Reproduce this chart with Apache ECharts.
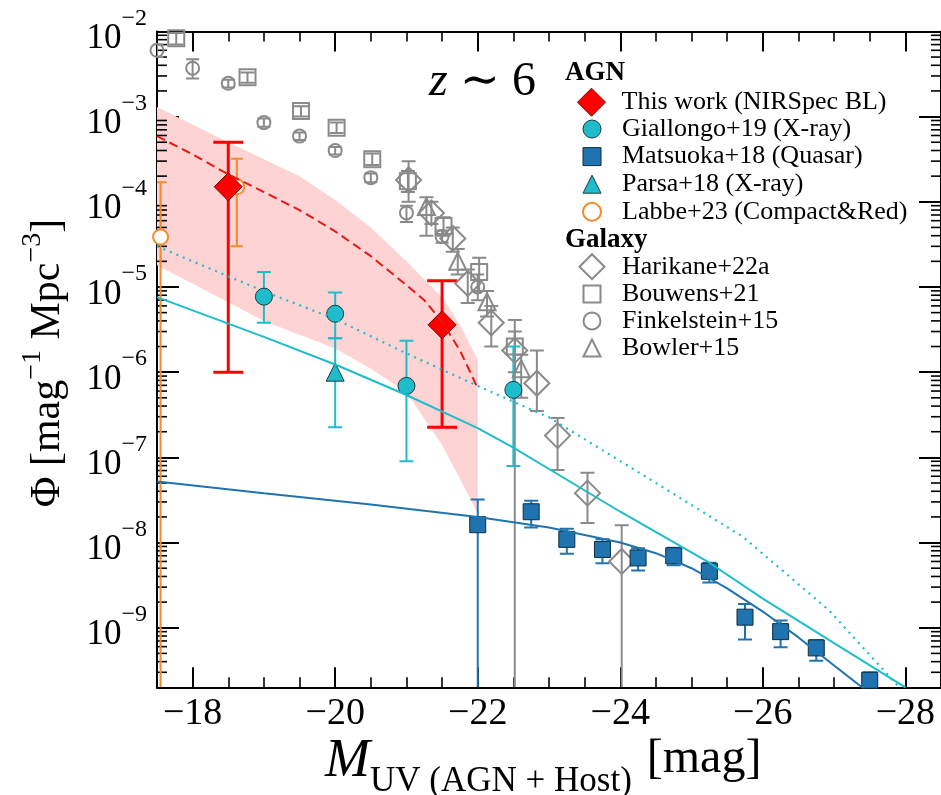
<!DOCTYPE html>
<html>
<head>
<meta charset="utf-8">
<script src="https://cdn.jsdelivr.net/npm/echarts@6.0.0/dist/echarts.min.js"></script>
<style>html,body{margin:0;padding:0;background:#fff}#c{width:941px;height:795px}</style>
</head>
<body>
<div id="c"></div>
<script>
// ---------------- axis ranges & ticks ----------------
const X_MIN = -28.5, X_MAX = -17.5;
const Y_MIN = 2e-10, Y_MAX = 1e-2;
const xTickLabels = [-18, -20, -22, -24, -26, -28];
const yTickExponents = [-9, -8, -7, -6, -5, -4, -3, -2];

// ---------------- AGN data: [M, phi, low, high] ----------------
const thisWorkM   = [-18.5, -21.5];
const thisWorkPhi = [1.5e-4, 3.6e-6];
const thisWorkLo  = [1.0e-6, 2.25e-7];
const thisWorkHi  = [5.0e-4, 1.18e-5];

const giallongoM   = [-19, -20, -21, -22.5];
const giallongoPhi = [7.7e-6, 4.85e-6, 6.9e-7, 6.2e-7];
const giallongoLo  = [3.8e-6, 2.5e-6, 9.0e-8, 7.9e-8];
const giallongoHi  = [1.5e-5, 8.6e-6, 2.34e-6, 2.0e-6];

const matsuokaM   = [-22, -22.75, -23.25, -23.75, -24.25, -24.75, -25.25, -25.75, -26.25, -26.75, -27.5];
const matsuokaPhi = [1.62e-8, 2.3e-8, 1.09e-8, 8.3e-9, 6.6e-9, 7.0e-9, 4.6e-9, 1.33e-9, 9.0e-10, 5.8e-10, 2.42e-10];
const matsuokaLo  = [0, 1.5e-8, 7.4e-9, 5.7e-9, 4.7e-9, 5.4e-9, 3.4e-9, 7.3e-10, 5.9e-10, 4.1e-10, 1.8e-10];
const matsuokaHi  = [3.2e-8, 3.1e-8, 1.45e-8, 1.09e-8, 8.6e-9, 8.7e-9, 5.8e-9, 1.9e-9, 1.22e-9, 7.2e-10, 3.0e-10];

const parsaM   = [-20];
const parsaPhi = [1.0e-6];
const parsaLo  = [2.25e-7];
const parsaHi  = [2.5e-6];

const labbeM   = [-17.55, -18.62];
const labbePhi = [3.85e-5, 1.5e-4];
const labbeLo  = [0, 3.0e-5];
const labbeHi  = [1.7e-4, 3.2e-4];

// ---------------- Galaxy data ----------------
const harikaneM   = [-21.03, -21.35, -21.65, -21.86, -22.19, -22.52, -22.83, -23.12, -23.54, -24.02];
const harikanePhi = [1.8e-4, 7.4e-5, 3.7e-5, 1.1e-5, 3.8e-6, 1.8e-6, 7.4e-7, 1.8e-7, 3.8e-8, 6.0e-9];
const harikaneLo  = [1.0e-4, 5.5e-5, 2.6e-5, 6.5e-6, 2.0e-6, 1.0e-6, 3.5e-7, 7.1e-8, 1.7e-8, 0];
const harikaneHi  = [3.0e-4, 1.0e-4, 5.0e-5, 1.6e-5, 6.0e-6, 3.0e-6, 1.8e-6, 2.9e-7, 6.6e-8, 1.6e-8];

const bouwensM   = [-17.77, -18.77, -19.52, -20.02, -20.52, -21.02, -21.52, -22.02, -22.52];
const bouwensPhi = [8.3e-3, 2.9e-3, 1.16e-3, 7.4e-4, 3.16e-4, 1.74e-4, 5.2e-5, 1.5e-5, 2.0e-6];
const bouwensLo  = [7.0e-3, 2.5e-3, 1.0e-3, 6.4e-4, 2.7e-4, 1.3e-4, 4.0e-5, 9.0e-6, 0];
const bouwensHi  = [9.6e-3, 3.3e-3, 1.32e-3, 8.5e-4, 3.7e-4, 2.3e-4, 6.6e-5, 2.2e-5, 4.1e-6];

const finkelsteinM   = [-17.5, -18.0, -18.5, -19.0, -19.5, -20.0, -20.5, -21.0, -21.5, -22.0];
const finkelsteinPhi = [6.0e-3, 3.7e-3, 2.46e-3, 8.5e-4, 5.9e-4, 4.0e-4, 1.92e-4, 7.4e-5, 3.9e-5, 1.0e-5];
const finkelsteinLo  = [5.0e-3, 2.8e-3, 2.2e-3, 7.6e-4, 5.3e-4, 3.6e-4, 1.7e-4, 5.8e-5, 3.3e-5, 7.0e-6];
const finkelsteinHi  = [7.0e-3, 4.7e-3, 2.7e-3, 9.5e-4, 6.5e-4, 4.4e-4, 2.15e-4, 9.0e-5, 4.6e-5, 1.4e-5];

const bowlerM   = [-21.28, -21.72, -22.13, -22.61];
const bowlerPhi = [8.8e-5, 2.0e-5, 6.7e-6, 1.1e-6];
const bowlerLo  = [4.0e-5, 1.4e-5, 4.5e-6, 5.0e-7];
const bowlerHi  = [1.13e-4, 2.8e-5, 9.0e-6, 1.6e-6];

// ---------------- model curves ----------------
const dplRedM   = [-17.5, -18, -18.5, -19, -19.5, -20, -20.5, -21, -21.25, -21.5, -21.75, -22];
const dplRedPhi = [5.9e-4, 3.6e-4, 2.1e-4, 1.3e-4, 8.0e-5, 4.5e-5, 2.3e-5, 1.05e-5, 7.0e-6, 3.9e-6, 1.8e-6, 6.5e-7];

const bandUpperM   = [-17.5, -18.5, -19.5, -20.0, -20.5, -21.0, -21.5, -21.75, -22.0];
const bandUpperPhi = [1.3e-3, 5.0e-4, 2.0e-4, 1.05e-4, 5.0e-5, 2.0e-5, 7.6e-6, 3.6e-6, 1.4e-6];
const bandLowerM   = [-17.5, -18.25, -19.0, -20.0, -20.5, -21.0, -21.5, -21.75, -22.0];
const bandLowerPhi = [1.8e-5, 8.5e-6, 4.0e-6, 1.9e-6, 1.1e-6, 5.8e-7, 1.4e-7, 5.6e-8, 2.2e-8];

const cyanSolidM   = [-17.5, -19, -20, -21, -22, -22.5, -23, -24, -25.25, -26, -27, -28];
const cyanSolidPhi = [7.6e-6, 2.6e-6, 1.23e-6, 5.4e-7, 2.2e-7, 1.3e-7, 7.3e-8, 2.3e-8, 5.8e-9, 2.2e-9, 6.6e-10, 2.0e-10];

const cyanDotM   = [-17.5, -19, -20, -21, -22, -23, -24.28, -25.72, -26.93, -27.89];
const cyanDotPhi = [3.0e-5, 8.9e-6, 4.2e-6, 1.66e-6, 6.9e-7, 2.95e-7, 6.5e-8, 1.17e-8, 1.6e-9, 2.1e-10];

const matsuokaFitM   = [-17.5, -19, -20.5, -22, -23, -24, -24.5, -25, -25.5, -26, -26.5, -27, -27.5];
const matsuokaFitPhi = [5.2e-8, 3.8e-8, 2.8e-8, 2.0e-8, 1.5e-8, 1.0e-8, 7.5e-9, 5.0e-9, 2.9e-9, 1.55e-9, 7.7e-10, 3.6e-10, 1.7e-10];

// minor log tick positions (2..9 x 10^n)
const yMinorTicks = [];
for (let e = -10; e < -2; e++) for (let k = 2; k <= 9; k++) {
  const v = k * Math.pow(10, e);
  if (v > Y_MIN * 1.001 && v < Y_MAX) yMinorTicks.push(v);
}

// ---------------- styles ----------------
const FONT = "'Liberation Serif', 'Times New Roman', 'DejaVu Serif', serif";
const RED = '#ff0000', CYAN = '#1fbccc', BLUE = '#1f74b0', ORANGE = '#f58a2a', GRAY = '#8a8a8a';

function pairs(M, P) { return M.map((m, i) => [m, P[i]]); }

function errBars(name, M, lo, hi, color, lw, cap) {
  return {
    type: 'custom', name: name, silent: true, clip: true,
    data: M.map((m, i) => [m, lo[i], hi[i]]),
    encode: { x: 0, y: 2 },
    renderItem: function (params, api) {
      const x = api.value(0), l = api.value(1), h = api.value(2);
      const top = api.coord([x, h]);
      const hasLow = l > 0;
      const bot = api.coord([x, hasLow ? l : Y_MIN]);
      const st = { stroke: color, lineWidth: lw };
      const ch = [
        { type: 'line', shape: { x1: top[0], y1: top[1], x2: bot[0], y2: bot[1] }, style: st },
        { type: 'line', shape: { x1: top[0] - cap / 2, y1: top[1], x2: top[0] + cap / 2, y2: top[1] }, style: st }
      ];
      if (hasLow) ch.push({ type: 'line', shape: { x1: bot[0] - cap / 2, y1: bot[1], x2: bot[0] + cap / 2, y2: bot[1] }, style: st });
      return { type: 'group', children: ch };
    }
  };
}

function fitLine(name, M, P, color, type, width) {
  return {
    type: 'line', name: name, data: pairs(M, P), showSymbol: false, symbol: 'none',
    silent: true, clip: true, lineStyle: { color: color, width: width, type: type }
  };
}

function scatter(name, M, P, symbol, size, fill, border, bw) {
  return {
    type: 'scatter', name: name, data: pairs(M, P), symbol: symbol, symbolSize: size,
    clip: true, silent: true,
    itemStyle: { color: fill, borderColor: border, borderWidth: bw, opacity: 1 }
  };
}

const bandSeries = {
  type: 'custom', name: 'band', silent: true, clip: true,
  data: [[bandUpperM[0], bandUpperPhi[0]]],
  encode: { x: 0, y: 1 },
  renderItem: function (params, api) {
    const pts = [];
    for (let i = 0; i < bandUpperM.length; i++) pts.push(api.coord([bandUpperM[i], bandUpperPhi[i]]));
    for (let i = bandLowerM.length - 1; i >= 0; i--) pts.push(api.coord([bandLowerM[i], bandLowerPhi[i]]));
    return { type: 'polygon', shape: { points: pts }, style: { fill: '#fdd3d3' } };
  }
};

const minorTickSeries = {
  type: 'custom', name: 'minorTicks', silent: true, clip: false,
  data: yMinorTicks.map(v => [X_MAX, v]),
  encode: { x: 0, y: 1 },
  renderItem: function (params, api) {
    const v = api.value(1);
    const L = api.coord([X_MAX, v]);
    const R = api.coord([X_MIN, v]);
    const st = { stroke: '#000', lineWidth: 1.6 };
    return { type: 'group', children: [
      { type: 'line', shape: { x1: L[0], y1: L[1], x2: L[0] + 10, y2: L[1] }, style: st },
      { type: 'line', shape: { x1: R[0], y1: R[1], x2: R[0] - 10, y2: R[1] }, style: st }
    ] };
  }
};

function fmtX(v) {
  const r = Math.round(v);
  if (Math.abs(v - r) > 1e-6 || xTickLabels.indexOf(r) < 0) return '';
  return '\u2212' + Math.abs(r);
}
function fmtY(v) {
  const lg = Math.log10(v);
  const e = Math.round(lg);
  if (Math.abs(lg - e) > 1e-6 || yTickExponents.indexOf(e) < 0) return '';
  return '{b|10}{s|\u2212' + Math.abs(e) + '}';
}

const xBase = {
  type: 'value', min: X_MIN, max: X_MAX, inverse: true, minInterval: 2, maxInterval: 2,
  splitLine: { show: false },
  axisLine: { show: true, onZero: false, lineStyle: { color: '#000', width: 2 } },
  axisTick: { show: true, inside: true, length: 20, lineStyle: { color: '#000', width: 2 } },
  minorTick: { show: true, splitNumber: 4, length: 10, lineStyle: { color: '#000', width: 1.6 } }
};
const yBase = {
  type: 'log', logBase: 10, min: Y_MIN, max: Y_MAX,
  splitLine: { show: false },
  axisLine: { show: true, onZero: false, lineStyle: { color: '#000', width: 2 } },
  axisTick: { show: true, inside: true, length: 22, lineStyle: { color: '#000', width: 2 } }
};

// legend: icon centred at x=591, text starting at x=621
function legendBox(top, iconSize, lineH, items) {
  return {
    show: true, orient: 'vertical', left: 591 - iconSize / 2, top: top, padding: 0, itemGap: 0,
    itemWidth: iconSize, itemHeight: iconSize, selectedMode: false,
    textStyle: { fontFamily: FONT, fontSize: 26, color: '#000', lineHeight: lineH,
      padding: [0, 0, 0, 25 - iconSize / 2] },
    data: items
  };
}

const option = {
  animation: false,
  backgroundColor: '#fff',
  grid: { left: 157, top: 31.4, width: 785.8, height: 655.9, containLabel: false },
  xAxis: [
    Object.assign({}, xBase, { position: 'bottom',
      axisLabel: { show: true, formatter: fmtX, margin: 8, fontFamily: FONT, fontSize: 38, color: '#000',
        showMinLabel: false, showMaxLabel: false } }),
    Object.assign({}, xBase, { position: 'top', axisLabel: { show: false } })
  ],
  yAxis: [
    Object.assign({}, yBase, { position: 'left',
      axisLabel: { show: true, formatter: fmtY, margin: 10,
        rich: {
          b: { fontFamily: FONT, fontSize: 35, color: '#000', lineHeight: 50, verticalAlign: 'bottom' },
          s: { fontFamily: FONT, fontSize: 24, color: '#000', lineHeight: 22, verticalAlign: 'top' }
        } } }),
    Object.assign({}, yBase, { position: 'right', axisLabel: { show: false } })
  ],
  legend: [
    legendBox(87.7, 28, 28, [
      { name: 'This work (NIRSpec BL)', icon: 'diamond', itemStyle: { color: RED, borderColor: '#7a0000', borderWidth: 1 } }
    ]),
    legendBox(115.2, 18, 27.6, [
      { name: 'Giallongo+19 (X-ray)', icon: 'circle', itemStyle: { color: CYAN, borderColor: '#1d3a40', borderWidth: 1 } },
      { name: 'Matsuoka+18 (Quasar)', icon: 'rect', itemStyle: { color: BLUE, borderColor: '#102a40', borderWidth: 1 } },
      { name: 'Parsa+18 (X-ray)', icon: 'triangle', itemStyle: { color: CYAN, borderColor: '#1d3a40', borderWidth: 1 } },
      { name: 'Labbe+23 (Compact&Red)', icon: 'circle', itemStyle: { color: '#fff', borderColor: ORANGE, borderWidth: 2 } }
    ]),
    legendBox(253.1, 25, 27.2, [
      { name: 'Harikane+22a', icon: 'diamond', itemStyle: { color: '#fff', borderColor: GRAY, borderWidth: 2 } }
    ]),
    legendBox(280.5, 17, 27, [
      { name: 'Bouwens+21', icon: 'rect', itemStyle: { color: '#fff', borderColor: GRAY, borderWidth: 2 } },
      { name: 'Finkelstein+15', icon: 'circle', itemStyle: { color: '#fff', borderColor: GRAY, borderWidth: 2 } },
      { name: 'Bowler+15', icon: 'triangle', itemStyle: { color: '#fff', borderColor: GRAY, borderWidth: 2 } }
    ])
  ],
  graphic: [
    { type: 'text', x: 429, y: 82, style: { text: '{i|z}{n| \u223C 6}', align: 'left', verticalAlign: 'middle',
      rich: { i: { fontFamily: FONT, fontStyle: 'italic', fontSize: 48, fill: '#000' },
              n: { fontFamily: FONT, fontSize: 48, fill: '#000' } } } },
    { type: 'text', x: 565, y: 73, style: { text: 'AGN', fontFamily: FONT, fontWeight: 'bold', fontSize: 27, fill: '#000', align: 'left', verticalAlign: 'middle' } },
    { type: 'text', x: 565, y: 240, style: { text: 'Galaxy', fontFamily: FONT, fontWeight: 'bold', fontSize: 27, fill: '#000', align: 'left', verticalAlign: 'middle' } },
    { type: 'text', x: 44, y: 363, rotation: Math.PI / 2,
      style: { text: '{n|\u03A6 [mag}{s|\u22121}{n| Mpc}{s|\u22123}{n|]}', align: 'center', verticalAlign: 'middle',
        rich: { n: { fontFamily: FONT, fontSize: 42, fill: '#000', lineHeight: 50, verticalAlign: 'bottom' },
                s: { fontFamily: FONT, fontSize: 28, fill: '#000', lineHeight: 26, verticalAlign: 'top' } } } },
    { type: 'text', x: 325, y: 767,
      style: { text: '{m|M}{u|UV (AGN + Host)}{g|  }{n|[mag]}', align: 'left', verticalAlign: 'middle',
        rich: { m: { fontFamily: FONT, fontStyle: 'italic', fontSize: 54, fill: '#000', lineHeight: 60, verticalAlign: 'top' },
                u: { fontFamily: FONT, fontSize: 35, fill: '#000', lineHeight: 34, verticalAlign: 'bottom' },
                g: { fontFamily: FONT, fontSize: 30, fill: '#000', lineHeight: 34, verticalAlign: 'bottom' },
                n: { fontFamily: FONT, fontSize: 48, fill: '#000', lineHeight: 64, verticalAlign: 'top' } } } }
  ],
  series: [
    bandSeries,
    minorTickSeries,
    fitLine('Matsuoka fit', matsuokaFitM, matsuokaFitPhi, BLUE, 'solid', 2),
    fitLine('Giallongo fit', cyanSolidM, cyanSolidPhi, CYAN, 'solid', 2),
    fitLine('Giallongo fit dotted', cyanDotM, cyanDotPhi, CYAN, [2, 5], 2.2),
    fitLine('This work fit', dplRedM, dplRedPhi, '#e81818', [9, 5], 2),

    errBars('Finkelstein err', finkelsteinM, finkelsteinLo, finkelsteinHi, GRAY, 2, 13),
    scatter('Finkelstein+15', finkelsteinM, finkelsteinPhi, 'circle', 13, 'rgba(255,255,255,0)', GRAY, 2),
    errBars('Bouwens err', bouwensM, bouwensLo, bouwensHi, GRAY, 2, 14),
    scatter('Bouwens+21', bouwensM, bouwensPhi, 'rect', 16, 'rgba(255,255,255,0)', GRAY, 2),
    errBars('Bowler err', bowlerM, bowlerLo, bowlerHi, GRAY, 2, 14),
    scatter('Bowler+15', bowlerM, bowlerPhi, 'triangle', 17, 'rgba(255,255,255,0)', GRAY, 2),
    errBars('Harikane err', harikaneM, harikaneLo, harikaneHi, GRAY, 2, 14),
    scatter('Harikane+22a', harikaneM, harikanePhi, 'diamond', 25, 'rgba(255,255,255,0)', GRAY, 2),

    errBars('Labbe err', labbeM, labbeLo, labbeHi, ORANGE, 2, 12),
    scatter('Labbe+23 (Compact&Red)', labbeM, labbePhi, 'circle', 15, '#fff', ORANGE, 2),
    errBars('Matsuoka err', matsuokaM, matsuokaLo, matsuokaHi, BLUE, 2, 14),
    scatter('Matsuoka+18 (Quasar)', matsuokaM, matsuokaPhi, 'rect', 16, BLUE, '#102a40', 1),
    errBars('Parsa err', parsaM, parsaLo, parsaHi, CYAN, 2, 14),
    scatter('Parsa+18 (X-ray)', parsaM, parsaPhi, 'triangle', 18, CYAN, '#1d3a40', 1),
    errBars('Giallongo err', giallongoM, giallongoLo, giallongoHi, CYAN, 2, 14),
    scatter('Giallongo+19 (X-ray)', giallongoM, giallongoPhi, 'circle', 17, CYAN, '#1d3a40', 1),
    errBars('This work err', thisWorkM, thisWorkLo, thisWorkHi, RED, 3, 30),
    scatter('This work (NIRSpec BL)', thisWorkM, thisWorkPhi, 'diamond', 28, RED, '#7a0000', 1)
  ]
};

const chart = echarts.init(document.getElementById('c'), null, { renderer: 'canvas' });
chart.setOption(option);
</script>
</body>
</html>
